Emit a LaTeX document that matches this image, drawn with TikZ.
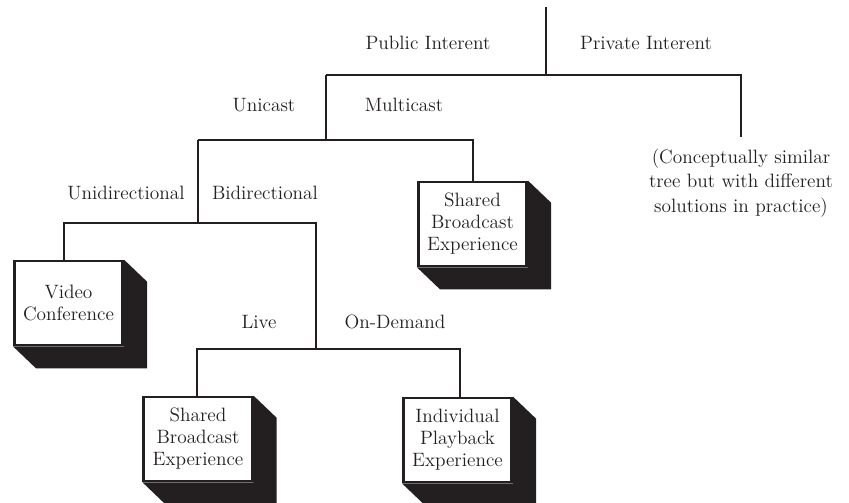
\documentclass[tikz,border=0pt]{standalone}
\usepackage{xcolor}
\usepackage{tikz}
\definecolor{ink}{RGB}{35,31,32}

\begin{document}
\begin{tikzpicture}[x=0.02cm, y=-0.02cm, line width=1.5pt, ink,
        font=\fontsize{11}{12.5}\selectfont,
        branch/.style={anchor=base, inner sep=0pt},
        choice/.style={draw=ink, fill=white, align=center, minimum width=2.17cm, minimum height=1.68cm, inner sep=2pt}]
    \useasboundingbox (0, 0) rectangle (849, 503);

    % level 0: public / private
    \coordinate (top) at (546, 7);
    \coordinate (fork0) at (546, 75);
    \coordinate (public) at (326, 75);
    \coordinate (private) at (741, 75);
    \node[branch] (public-l) at (428, 50) {Public Interent};
    \node[branch] (private-l) at (646, 50) {Private Interent};
    \node[align=center, anchor=north, inner sep=6pt, font=\fontsize{11}{14}\selectfont] (note) at (741, 137)
        {(Conceptually similar\\tree but with different\\solutions in practice)};

    % level 1: unicast / multicast
    \coordinate (fork1) at (326, 140);
    \coordinate (unicast) at (198, 140);
    \coordinate (multicast) at (473, 140);
    \node[branch] (unicast-l) at (264, 112) {Unicast};
    \node[branch] (multicast-l) at (404, 112) {Multicast};
    \node[choice] (sbe1) at (472.5, 224) {Shared\\Broadcast\\Experience};

    % level 2: unidirectional / bidirectional
    \coordinate (fork2) at (198, 223);
    \coordinate (unidir) at (64, 223);
    \coordinate (bidir) at (316, 223);
    \node[branch] (unidir-l) at (126, 200) {Unidirectional};
    \node[branch] (bidir-l) at (265, 200) {Bidirectional};
    \node[choice] (vc) at (68.5, 303) {Video\\Conference};

    % level 3: live / on-demand
    \coordinate (fork3) at (316, 349);
    \coordinate (live) at (197, 349);
    \coordinate (ondemand) at (460, 349);
    \node[branch] (live-l) at (259, 329) {Live};
    \node[branch] (ondemand-l) at (395, 329) {On-Demand};
    \node[choice] (sbe2) at (198, 439) {Shared\\Broadcast\\Experience};
    \node[choice] (ipe) at (457.5, 440) {Individual\\Playback\\Experience};

    % shadows
    \foreach \b in {sbe1, vc, sbe2, ipe} {
        \fill[ink] (\b.north east) -- ([shift={(23, 22)}]\b.north east)
            -- ([shift={(23, 22)}]\b.south east) -- ([shift={(23, 22)}]\b.south west)
            -- (\b.south west) -- (\b.south east) -- cycle;
    }

    % branches
    \draw (top) -- (fork0);
    \draw (public) -- (private) -- (note.north);
    \draw (public) -- (fork1);
    \draw (unicast) -- (multicast) -- (multicast |- sbe1.north);
    \draw (unicast) -- (fork2);
    \draw (unidir |- vc.north) -- (unidir) -- (bidir) -- (fork3);
    \draw (live |- sbe2.north) -- (live) -- (ondemand) -- (ondemand |- ipe.north);
\end{tikzpicture}
\end{document}
